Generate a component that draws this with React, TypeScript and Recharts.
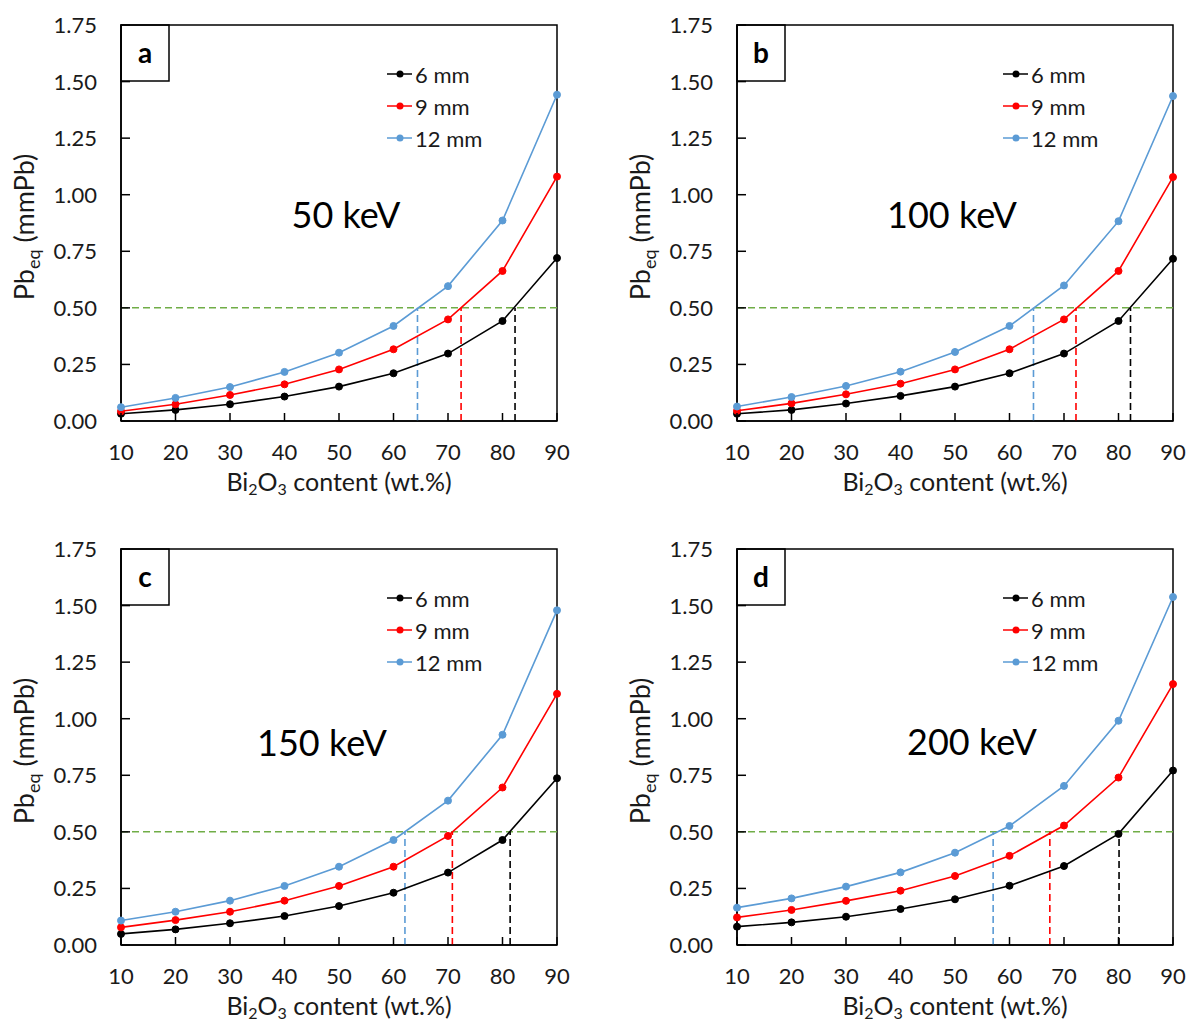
import { LineChart, Line, XAxis, YAxis, ReferenceLine, ReferenceArea, Legend } from 'recharts';

const FONT = "Lato, 'Open Sans', sans-serif";

// shared axes
const bi2o3 = [10, 20, 30, 40, 50, 60, 70, 80, 90];
const xTicks = [10, 20, 30, 40, 50, 60, 70, 80, 90];
const yTicks = [0, 0.25, 0.5, 0.75, 1, 1.25, 1.5, 1.75];
const limit = 0.5;

// (a) 50 keV
const a6 = [0.032, 0.049, 0.074, 0.108, 0.152, 0.211, 0.298, 0.442, 0.72];
const a9 = [0.043, 0.074, 0.115, 0.162, 0.228, 0.317, 0.449, 0.663, 1.08];
const a12 = [0.061, 0.102, 0.15, 0.217, 0.302, 0.42, 0.596, 0.886, 1.442];
const aCross = [82.3, 72.4, 64.4];

// (b) 100 keV
const b6 = [0.032, 0.049, 0.077, 0.111, 0.152, 0.211, 0.298, 0.442, 0.717];
const b9 = [0.045, 0.078, 0.118, 0.165, 0.228, 0.317, 0.449, 0.663, 1.078];
const b12 = [0.064, 0.106, 0.155, 0.218, 0.305, 0.42, 0.599, 0.883, 1.436];
const bCross = [82.2, 72.2, 64.4];

// (c) 150 keV
const c6 = [0.049, 0.069, 0.096, 0.128, 0.172, 0.231, 0.32, 0.464, 0.737];
const c9 = [0.078, 0.11, 0.147, 0.196, 0.261, 0.346, 0.482, 0.696, 1.11];
const c12 = [0.108, 0.147, 0.196, 0.261, 0.346, 0.464, 0.638, 0.929, 1.479];
const cCross = [81.4, 70.8, 62.1];

// (d) 200 keV
const d6 = [0.081, 0.1, 0.125, 0.159, 0.202, 0.262, 0.349, 0.491, 0.771];
const d9 = [0.122, 0.155, 0.195, 0.24, 0.305, 0.394, 0.528, 0.74, 1.153];
const d12 = [0.165, 0.206, 0.258, 0.321, 0.408, 0.526, 0.703, 0.991, 1.538];
const dCross = [80.1, 67.4, 57.0];

const SERIES = [
  { key: 'mm6', name: '6 mm', color: '#000000' },
  { key: 'mm9', name: '9 mm', color: '#ff0000' },
  { key: 'mm12', name: '12 mm', color: '#5b9bd5' },
];

const panels = [
  { letter: 'a', energy: '50 keV', s6: a6, s9: a9, s12: a12, cross: aCross, left: 0, top: 0, ex: 346, ey: 215 },
  { letter: 'b', energy: '100 keV', s6: b6, s9: b9, s12: b12, cross: bCross, left: 616, top: 0, ex: 336, ey: 215 },
  { letter: 'c', energy: '150 keV', s6: c6, s9: c9, s12: c12, cross: cCross, left: 0, top: 524, ex: 322, ey: 219 },
  { letter: 'd', energy: '200 keV', s6: d6, s9: d9, s12: d12, cross: dCross, left: 616, top: 524, ex: 356, ey: 218 },
];

function YTick(props: any) {
  const { x, y, payload } = props;
  const ax = x + 24; // axis line position (tickMargin 24, tickSize 0)
  return (
    <g>
      <line x1={ax} x2={ax + 9} y1={y} y2={y} stroke="#000" strokeWidth={1.5} />
      <text x={x} y={y} dy={8} textAnchor="end" fontSize={22} fill="#1a1a1a" fontFamily={FONT}>
        {Number(payload.value).toFixed(2)}
      </text>
    </g>
  );
}

function XTick(props: any) {
  const { x, y, payload } = props;
  return (
    <g>
      <line x1={x} x2={x} y1={y} y2={y - 8} stroke="#000" strokeWidth={1.5} />
      <text x={x} y={y} dy={39} textAnchor="middle" fontSize={22} fill="#1a1a1a" fontFamily={FONT}>
        {payload.value}
      </text>
    </g>
  );
}

function LegendBox({ payload }: any) {
  // keep the series order (6, 9, 12 mm) rather than the alphabetical one
  const items = SERIES.map((s) => (payload || []).find((p: any) => p.value === s.name)).filter(Boolean);
  return (
    <div style={{ fontFamily: FONT, fontSize: 22, color: '#1a1a1a' }}>
      {items.map((p: any) => (
        <div key={p.value} style={{ display: 'flex', alignItems: 'center', height: 32 }}>
          <svg width={28} height={12}>
            <line x1={1} x2={26} y1={6} y2={6} stroke={p.color} strokeWidth={1.5} />
            <circle cx={14} cy={6} r={3.5} fill={p.color} />
          </svg>
          <span style={{ marginLeft: 1 }}>{p.value}</span>
        </div>
      ))}
    </div>
  );
}

function Panel({ p }: { p: (typeof panels)[number] }) {
  const data = bi2o3.map((x, i) => ({ x, mm6: p.s6[i], mm9: p.s9[i], mm12: p.s12[i] }));
  return (
    <div style={{ position: 'absolute', left: p.left, top: p.top }}>
      <LineChart width={580} height={499} data={data} margin={{ top: 25, right: 23, bottom: 0, left: 0 }}>
        <XAxis
          dataKey="x"
          type="number"
          domain={[10, 90]}
          ticks={xTicks}
          interval={0}
          height={78}
          axisLine={{ stroke: '#000', strokeWidth: 1.5 }}
          tickLine={false}
          tickSize={0}
          tickMargin={0}
          tick={(t: any) => <XTick {...t} />}
        />
        <YAxis
          type="number"
          domain={[0, 1.75]}
          ticks={yTicks}
          interval={0}
          width={121}
          axisLine={{ stroke: '#000', strokeWidth: 1.5 }}
          tickLine={false}
          tickSize={0}
          tickMargin={24}
          tick={(t: any) => <YTick {...t} />}
        />
        <ReferenceArea x1={10} x2={90} y1={0} y2={1.75} fill="none" stroke="#000" strokeWidth={1.5} />
        <ReferenceLine y={limit} stroke="#70ad47" strokeWidth={1.5} strokeDasharray="7 4" />
        {p.cross.map((c, i) => (
          <ReferenceLine
            key={i}
            segment={[{ x: c, y: 0 }, { x: c, y: limit }]}
            stroke={SERIES[i].color}
            strokeWidth={1.6}
            strokeDasharray="7 4"
          />
        ))}
        {SERIES.map((s) => (
          <Line
            key={s.key}
            dataKey={s.key}
            name={s.name}
            stroke={s.color}
            strokeWidth={1.6}
            dot={{ r: 3.5, fill: s.color, stroke: s.color, strokeWidth: 1 }}
            isAnimationActive={false}
          />
        ))}
        <Legend
          layout="vertical"
          align="center"
          verticalAlign="middle"
          content={(lp: any) => <LegendBox {...lp} />}
          wrapperStyle={{ left: 386, top: 58, width: 'auto' }}
        />
        <rect x={121} y={25} width={48} height={56} fill="#fff" stroke="#000" strokeWidth={1.5} />
        <text x={145} y={63} textAnchor="middle" fontSize={28} fontWeight="bold" fontFamily={FONT} fill="#000">
          {p.letter}
        </text>
        <text x={p.ex} y={p.ey} dy={13} textAnchor="middle" fontSize={36} fontFamily={FONT} fill="#000">
          {p.energy}
        </text>
        <text x={339} y={491} textAnchor="middle" fontSize={25} fontFamily={FONT} fill="#1a1a1a">
          Bi<tspan dy={4} fontSize={16}>2</tspan>
          <tspan dy={-4}>O</tspan>
          <tspan dy={4} fontSize={16}>3</tspan>
          <tspan dy={-4}> content (wt.%)</tspan>
        </text>
        <text
          x={34}
          y={227}
          transform="rotate(-90, 34, 227)"
          textAnchor="middle"
          fontSize={27}
          fontFamily={FONT}
          fill="#1a1a1a"
        >
          Pb<tspan dy={6} fontSize={18}>eq</tspan>
          <tspan dy={-6}> (mmPb)</tspan>
        </text>
      </LineChart>
    </div>
  );
}

export default function App() {
  return (
    <div style={{ position: 'absolute', left: 0, top: 0, width: 1188, height: 1023, background: '#fff' }}>
      {panels.map((p) => (
        <Panel key={p.letter} p={p} />
      ))}
    </div>
  );
}
